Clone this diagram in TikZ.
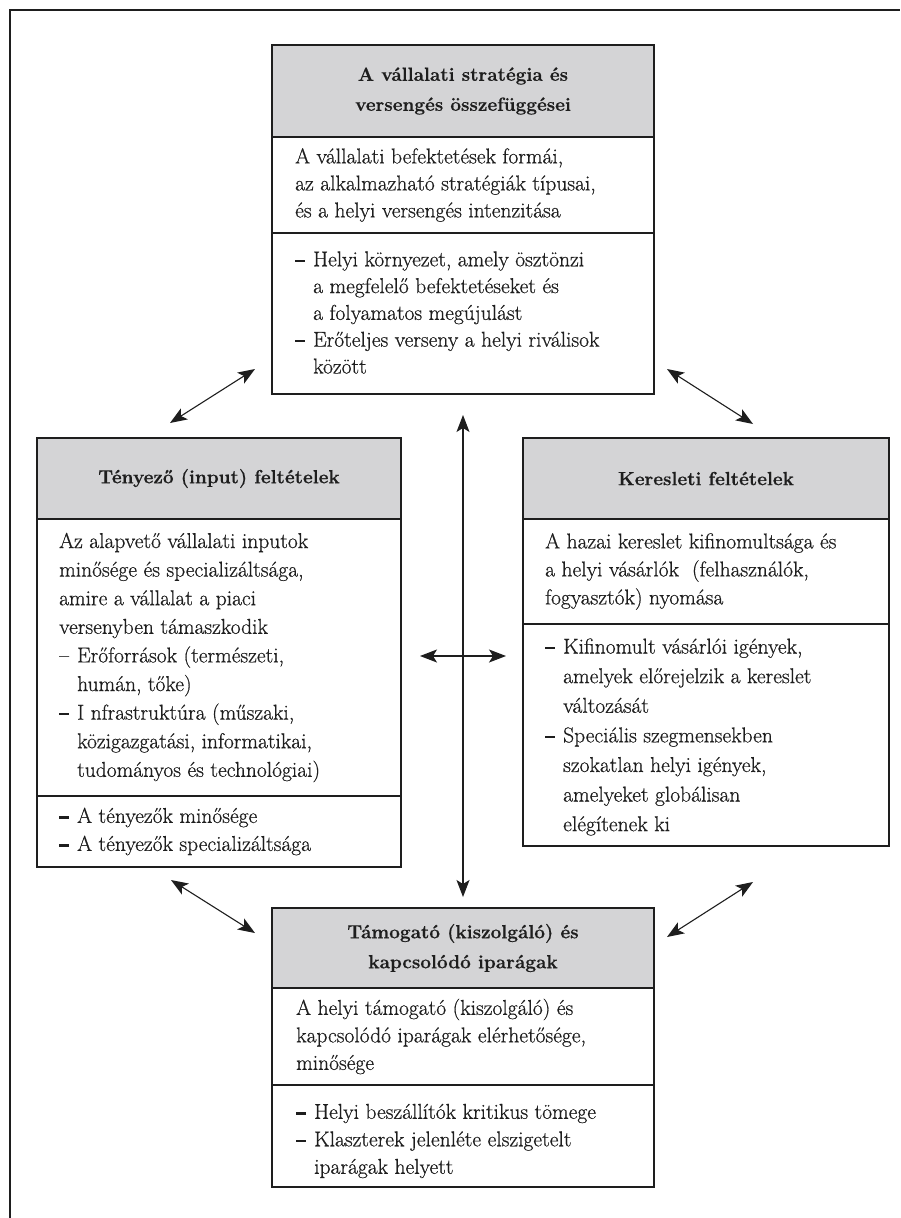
\documentclass[tikz,border=0pt]{standalone}
\usepackage{fontspec}
\usetikzlibrary{arrows.meta}
\newfontfamily\txtfont{Latin Modern Roman}[FakeBold=0.6]
\definecolor{headgray}{RGB}{212,212,214}
\definecolor{ink}{RGB}{30,30,30}
% list helpers: heavy dash with hanging indent, plain dash, continuation indent
\newcommand{\bdash}{\makebox[18pt][l]{\rule[4.2pt]{10pt}{2.4pt}}}
\newcommand{\ldash}{\makebox[18pt][l]{–}}
\newcommand{\cind}{\hspace*{18pt}}
\begin{document}
\begin{tikzpicture}[x=1pt,y=-1pt,
  part/.style={draw=ink, line width=1.1pt, anchor=north west, inner sep=0pt, outer sep=0pt},
  headbox/.style={part, fill=headgray, align=center, text=ink,
    font=\txtfont\bfseries\fontsize{19}{30}\selectfont},
  bodytext/.style={anchor=west, align=left, inner sep=0pt, text=ink,
    font=\txtfont\fontsize{21.5}{28}\selectfont},
  link/.style={draw=ink, line width=1.1pt,
    {Stealth[length=17pt,width=13pt,inset=4pt]}-{Stealth[length=17pt,width=13pt,inset=4pt]}}
]
\useasboundingbox (0,0) rectangle (900,1218);
\fill[white] (0,0) rectangle (900,1218);

% page frame (top and left edges)
\coordinate (frameA) at (10,1218);
\coordinate (frameB) at (10,10);
\coordinate (frameC) at (900,10);
\draw[ink, line width=1.6pt] (frameA) -- (frameB) -- (frameC);

% --- firm strategy and rivalry ---
\node[headbox, minimum width=382pt, minimum height=92pt] (tsH) at (272,45)
  {A vállalati stratégia és\\versengés összefüggései};
\node[part, minimum width=382pt, minimum height=96pt] (tsB) at (272,137) {};
\node[part, minimum width=382pt, minimum height=161pt] (tsL) at (272,233) {};
\node[bodytext, font=\txtfont\fontsize{21.5}{27}\selectfont] (tsBt) at ([xshift=23pt]tsB.west)
  {A vállalati befektetések formái,\\az alkalmazható stratégiák típusai,\\és a helyi versengés intenzitása};
\node[bodytext, font=\txtfont\fontsize{21.5}{26.8}\selectfont] (tsLt) at ([xshift=23pt,yshift=1pt]tsL.west)
  {\bdash Helyi környezet, amely ösztönzi\\\cind a megfelelő befektetéseket és\\\cind a folyamatos megújulást\\\bdash Erőteljes verseny a helyi riválisok\\\cind között};

% --- factor conditions ---
\node[headbox, minimum width=364pt, minimum height=81pt] (fcH) at (37,438)
  {Tényező (input) feltételek};
\node[part, minimum width=364pt, minimum height=277pt] (fcB) at (37,519) {};
\node[part, minimum width=364pt, minimum height=71pt] (fcL) at (37,796) {};
\node[bodytext, font=\txtfont\fontsize{21.5}{28.6}\selectfont] (fcBt) at ([xshift=22pt]fcB.west)
  {Az alapvető vállalati inputok\\minősége és specializáltsága,\\amire a vállalat a piaci\\versenyben támaszkodik\\\ldash Erőforrások (természeti,\\\cind humán, tőke)\\\bdash I nfrastruktúra (műszaki,\\\cind közigazgatási, informatikai,\\\cind tudományos és technológiai)};
\node[bodytext] (fcLt) at ([xshift=22pt]fcL.west)
  {\bdash A tényezők minősége\\\bdash A tényezők specializáltsága};

% --- demand conditions ---
\node[headbox, minimum width=366pt, minimum height=81pt] (dcH) at (523,438)
  {Keresleti feltételek};
\node[part, minimum width=366pt, minimum height=105pt] (dcB) at (523,519) {};
\node[part, minimum width=366pt, minimum height=222pt] (dcL) at (523,624) {};
\node[bodytext] (dcBt) at ([xshift=22pt]dcB.west)
  {A hazai kereslet kifinomultsága és\\a helyi vásárlók\ \ (felhasználók,\\fogyasztók) nyomása};
\node[bodytext, font=\txtfont\fontsize{21.5}{29.6}\selectfont] (dcLt) at ([xshift=22pt,yshift=-2pt]dcL.west)
  {\bdash Kifinomult vásárlói igények,\\\cind amelyek előrejelzik a kereslet\\\cind változását\\\bdash Speciális szegmensekben\\\cind szokatlan helyi igények,\\\cind amelyeket globálisan\\\cind elégítenek ki};

% --- related and supporting industries ---
\node[headbox, minimum width=382pt, minimum height=80pt] (riH) at (272,908)
  {Támogató (kiszolgáló) és\\kapcsolódó iparágak};
\node[part, minimum width=382pt, minimum height=97pt] (riB) at (272,988) {};
\node[part, minimum width=382pt, minimum height=102pt] (riL) at (272,1085) {};
\node[bodytext, font=\txtfont\fontsize{21.5}{27.5}\selectfont] (riBt) at ([xshift=24pt]riB.west)
  {A helyi támogató (kiszolgáló) és\\kapcsolódó iparágak elérhetősége,\\minősége};
\node[bodytext, font=\txtfont\fontsize{21.5}{27.5}\selectfont] (riLt) at ([xshift=24pt,yshift=-5pt]riL.west)
  {\bdash Helyi beszállítók kritikus tömege\\\bdash Klaszterek jelenléte elszigetelt\\\cind iparágak helyett};

% --- two-way links ---
\coordinate (p1) at (170,423); \coordinate (p2) at (255,369);
\coordinate (p3) at (667,369); \coordinate (p4) at (753,424);
\coordinate (p5) at (171,880); \coordinate (p6) at (255,933);
\coordinate (p7) at (667,937); \coordinate (p8) at (753,882);
\coordinate (v1) at (463,415); \coordinate (v2) at (463,897);
\coordinate (h1) at (420,656); \coordinate (h2) at (506,656);
\draw[link] (p1) -- (p2);
\draw[link] (p3) -- (p4);
\draw[link] (p5) -- (p6);
\draw[link] (p7) -- (p8);
\draw[link] (v1) -- (v2);
\draw[link] (h1) -- (h2);
\end{tikzpicture}
\end{document}
